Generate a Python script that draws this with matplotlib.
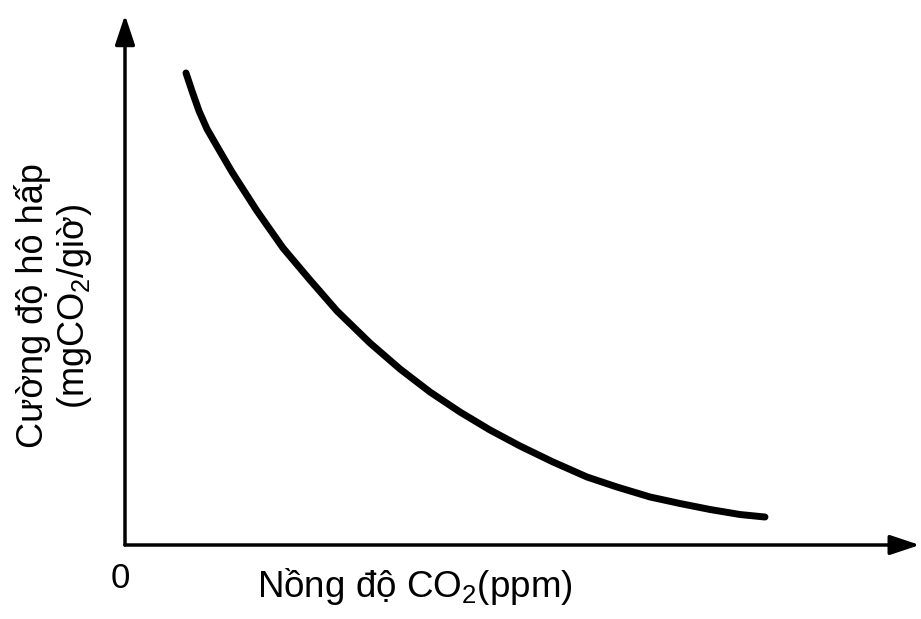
import matplotlib
matplotlib.use("Agg")
import matplotlib.pyplot as plt

plt.rcParams['font.family'] = ['Liberation Sans', 'DejaVu Sans']
plt.rcParams['mathtext.fontset'] = 'custom'
plt.rcParams['mathtext.rm'] = 'Liberation Sans'
plt.rcParams['mathtext.it'] = 'Liberation Sans'

# Data (arbitrary units, axes 0..100)
co2 = [7.72, 8.48, 9.37, 10.38, 11.77, 13.54, 16.71, 20.0, 23.42, 26.84, 31.01, 34.81,
       38.61, 42.41, 46.2, 50.0, 54.18, 56.33, 58.48, 62.28, 66.46, 70.25, 74.05, 77.85,
       81.01]
resp = [89.06, 85.66, 81.89, 78.49, 74.91, 70.38, 63.02, 56.04, 50.0, 44.15, 38.11, 33.21,
        28.87, 25.09, 21.7, 18.68, 15.66, 14.25, 12.83, 10.94, 9.06, 7.83, 6.7, 5.75,
        5.28]

xlabel = "Nồng độ CO$_2$(ppm)"
ylabel = "Cường độ hô hấp\n(mgCO$_2$/giờ)"
origin_label = "0"

W, H = 921, 619
fig = plt.figure(figsize=(W / 100, H / 100), dpi=100)
x0, x1 = 125, 915
y0, y1 = 545, 15
ax = fig.add_axes([x0 / W, 1 - y0 / H, (x1 - x0) / W, (y0 - y1) / H])
ax.set_xlim(0, 100)
ax.set_ylim(0, 100)
for s in ax.spines.values():
    s.set_visible(False)
ax.set_xticks([])
ax.set_yticks([])
ax.patch.set_alpha(0)

arrow = dict(arrowstyle='-|>,head_length=0.9,head_width=0.3', color='black', lw=2.5,
             shrinkA=0, shrinkB=0, mutation_scale=20)
ax.annotate('', xy=(100.6, 0), xytext=(0, 0), xycoords='data', arrowprops=arrow,
            annotation_clip=False)
ax.annotate('', xy=(0, 100), xytext=(0, 0), xycoords='data', arrowprops=arrow,
            annotation_clip=False)

ax.plot(co2, resp, color='black', lw=5, solid_capstyle='round', solid_joinstyle='round')

fig.text(120 / W, 1 - 578 / H, origin_label, fontsize=25, ha='center', va='center')
fig.text(415 / W, 1 - 597 / H, xlabel, fontsize=26.5, ha='center', va='baseline')
fig.text(54 / W, 1 - 306 / H, ylabel, fontsize=26, ha='center', va='center',
         rotation=90, linespacing=1.12)

fig.savefig('out.png', dpi=100, facecolor='white')
